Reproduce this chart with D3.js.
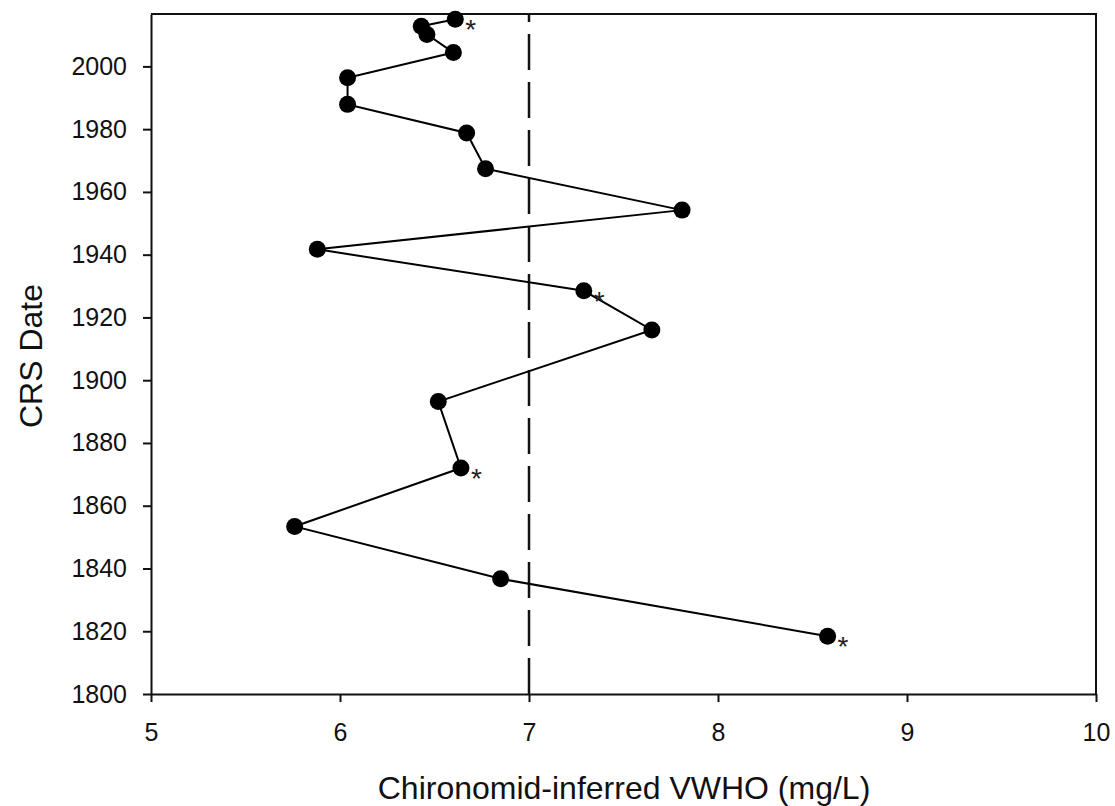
<!DOCTYPE html>
<html>
<head>
<meta charset="utf-8">
<script src="https://cdn.jsdelivr.net/npm/d3@7"></script>
<style>
  body { margin: 0; background: #fff; }
  svg { display: block; font-family: "Liberation Sans", Arial, sans-serif; }
</style>
</head>
<body>
<div id="chart"></div>
<script>
// CRS dates (top to bottom of the core) and inferred VWHO values
const years = [2015.0, 2012.8, 2010.2, 2004.4, 1996.4, 1987.9, 1978.8, 1967.4, 1954.2,
               1941.7, 1928.5, 1916.0, 1893.2, 1872.0, 1853.4, 1836.7, 1818.4];
const vwho = [6.61, 6.43, 6.46, 6.60, 6.04, 6.04, 6.67, 6.77, 7.81,
              5.88, 7.29, 7.65, 6.52, 6.64, 5.76, 6.85, 8.58];
// samples marked with an asterisk
const starred = [2015.0, 1928.5, 1872.0, 1818.4];
const xTicks = [5, 6, 7, 8, 9, 10];
const yTicks = [1800, 1820, 1840, 1860, 1880, 1900, 1920, 1940, 1960, 1980, 2000];
const threshold = 7;

const width = 1115, height = 806;
const margin = { top: 14, right: 19, bottom: 112, left: 151 };

const data = years.map((y, i) => ({ year: y, value: vwho[i] }));

const svg = d3.select("#chart").append("svg")
  .attr("width", width)
  .attr("height", height);

const x = d3.scaleLinear()
  .domain([5, 10])
  .range([margin.left, width - margin.right]);

const y = d3.scaleLinear()
  .domain([1800, 2016.7])
  .range([height - margin.bottom, margin.top]);

// axes
const xAxis = svg.append("g")
  .attr("transform", `translate(0,${height - margin.bottom})`)
  .call(d3.axisBottom(x).tickValues(xTicks).tickFormat(d3.format("d"))
    .tickSize(8).tickSizeOuter(0).tickPadding(21));

const yAxis = svg.append("g")
  .attr("transform", `translate(${margin.left},0)`)
  .call(d3.axisLeft(y).tickValues(yTicks).tickFormat(d3.format("d"))
    .tickSize(8).tickSizeOuter(0).tickPadding(16));

[xAxis, yAxis].forEach(g => {
  g.attr("font-size", null).attr("font-family", null);
  g.selectAll("path, line").attr("stroke", "#111").attr("stroke-width", 2);
  g.selectAll("text").style("font-size", "25px").attr("fill", "#111");
});

// top and right frame
svg.append("path")
  .attr("d", `M${x(5)},${y(2016.7)}H${x(10)}V${y(1800)}`)
  .attr("fill", "none")
  .attr("stroke", "#111")
  .attr("stroke-width", 2);

// dashed reference line at 7 mg/L, drawn from the bottom up
svg.append("line")
  .attr("x1", x(threshold)).attr("x2", x(threshold))
  .attr("y1", y(1800)).attr("y2", y(2016.7))
  .attr("stroke", "#111")
  .attr("stroke-width", 2.5)
  .attr("stroke-dasharray", "36,12");

// profile line
const line = d3.line()
  .x(d => x(d.value))
  .y(d => y(d.year));

svg.append("path")
  .datum(data)
  .attr("d", line)
  .attr("fill", "none")
  .attr("stroke", "#000")
  .attr("stroke-width", 2);

svg.selectAll("circle")
  .data(data)
  .enter()
  .append("circle")
  .attr("cx", d => x(d.value))
  .attr("cy", d => y(d.year))
  .attr("r", 8.5)
  .attr("fill", "#000");

svg.selectAll("text.star")
  .data(data.filter(d => starred.includes(d.year)))
  .enter()
  .append("text")
  .attr("class", "star")
  .attr("x", d => x(d.value) + 10)
  .attr("y", d => y(d.year) + 20)
  .attr("font-size", 28)
  .attr("fill", "#222")
  .text("*");

// axis titles
svg.append("text")
  .attr("x", 624)
  .attr("y", 799)
  .attr("font-size", 32)
  .attr("fill", "#111")
  .style("text-anchor", "middle")
  .text("Chironomid-inferred VWHO (mg/L)");

svg.append("text")
  .attr("transform", "rotate(-90)")
  .attr("x", -356)
  .attr("y", 42)
  .attr("font-size", 32)
  .attr("fill", "#111")
  .style("text-anchor", "middle")
  .text("CRS Date");
</script>
</body>
</html>
